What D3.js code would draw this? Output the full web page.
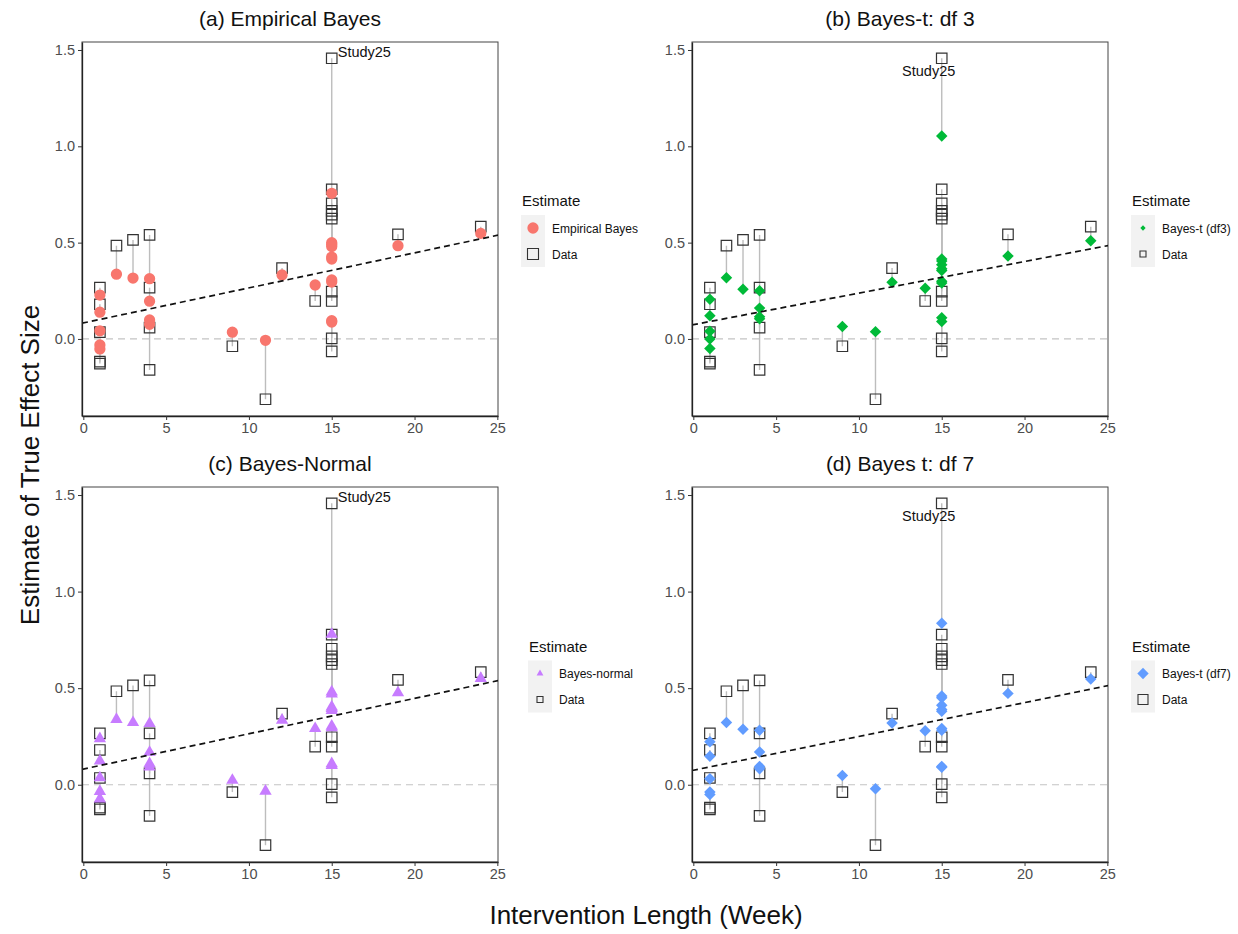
<!DOCTYPE html>
<html>
<head>
<meta charset="utf-8">
<script src="https://cdn.jsdelivr.net/npm/d3@7"></script>
<style>
  body { margin: 0; background: #fff; }
  text { font-family: "Liberation Sans", Arial, Helvetica, sans-serif; }
</style>
</head>
<body>
<svg id="chart" width="1238" height="934"></svg>
<script>
// Intervention length (weeks) for each study
const weeks = [1, 1, 1, 1, 1, 2, 3, 4, 4, 4, 4, 9, 11, 12, 14,
  15, 15, 15, 15, 15, 15, 15, 15, 15, 15, 19, 24];
// Observed effect sizes
const observed = [0.266, 0.180, 0.035, -0.118, -0.128, 0.484, 0.514, 0.540, 0.266, 0.059, -0.161,
  -0.038, -0.313, 0.368, 0.197,
  1.457, 0.777, 0.704, 0.665, 0.645, 0.625, 0.246, 0.197, 0.003, -0.065, 0.543, 0.583];
// Shrinkage estimates from each model
const ebEstimate = [0.228, 0.139, 0.042, -0.031, -0.052, 0.336, 0.316, 0.313, 0.196, 0.099, 0.076,
  0.035, -0.007, 0.332, 0.280,
  0.756, 0.500, 0.490, 0.480, 0.425, 0.415, 0.306, 0.295, 0.095, 0.088, 0.484, 0.548];
const tDf3Estimate = [0.206, 0.120, 0.040, 0.000, -0.050, 0.318, 0.258, 0.250, 0.160, 0.115, 0.105,
  0.064, 0.038, 0.294, 0.263,
  1.054, 0.415, 0.405, 0.385, 0.365, 0.355, 0.300, 0.290, 0.110, 0.090, 0.431, 0.510];
const normalEstimate = [0.239, 0.123, 0.036, -0.035, -0.073, 0.338, 0.322, 0.317, 0.168, 0.109, 0.092,
  0.023, -0.033, 0.334, 0.291,
  0.779, 0.481, 0.470, 0.403, 0.395, 0.385, 0.303, 0.295, 0.109, 0.100, 0.476, 0.551];
const tDf7Estimate = [0.222, 0.147, 0.031, -0.038, -0.050, 0.322, 0.287, 0.282, 0.170, 0.095, 0.083,
  0.048, -0.021, 0.320, 0.279,
  0.836, 0.459, 0.450, 0.412, 0.390, 0.380, 0.291, 0.282, 0.095, 0.090, 0.473, 0.547];

// Meta-regression fit per model (intercept, slope per week)
const fitIntercepts = [0.083, 0.074, 0.081, 0.075];
const fitSlopes = [0.0182, 0.0164, 0.0183, 0.0175];

const panelTitles = ["(a) Empirical Bayes", "(b) Bayes-t: df 3", "(c) Bayes-Normal", "(d) Bayes t: df 7"];
const seriesNames = ["Empirical Bayes", "Bayes-t (df3)", "Bayes-normal", "Bayes-t (df7)"];
const seriesColors = ["#F8766D", "#00BA38", "#C77CFF", "#619CFF"];
const xTicks = [0, 5, 10, 15, 20, 25];
const yTicks = [0, 0.5, 1.0, 1.5];
const yTickLabels = ["0.0", "0.5", "1.0", "1.5"];
const outlierLabel = "Study25";
const legendTitle = "Estimate";
const dataLabel = "Data";
const xTitle = "Intervention Length (Week)";
const yTitle = "Estimate of True Effect Size";

const estimates = [ebEstimate, tDf3Estimate, normalEstimate, tDf7Estimate];

const svg = d3.select("#chart");

// Panel layout
const panelW = 416;
const layout = [
  { left: 82,  top: 42,  bottom: 416, shape: "circle",   legendX: 521,  labelSide: "right",
    legendEst: 100, legendSq: 11 },
  { left: 692, top: 42,  bottom: 416, shape: "diamond",  legendX: 1131, labelSide: "below",
    legendEst: 14, legendSq: 6 },
  { left: 82,  top: 487, bottom: 862, shape: "triangle", legendX: 528,  labelSide: "right",
    legendEst: 20, legendSq: 6 },
  { left: 692, top: 487, bottom: 862, shape: "diamond",  legendX: 1131, labelSide: "below",
    legendEst: 64, legendSq: 10 }
];
const plotSize = { circle: 100, diamond: 66, triangle: 66 };

function markPath(shape, size) {
  if (shape === "circle") return d3.symbol(d3.symbolCircle, size)();
  if (shape === "triangle") return d3.symbol(d3.symbolTriangle, size)();
  return d3.symbol(d3.symbolSquare, size)();
}
function markRotate(shape) { return shape === "diamond" ? " rotate(45)" : ""; }

const studies = weeks.map((w, i) => ({ w, obs: observed[i], i }));
const outlierIdx = d3.maxIndex(observed);

layout.forEach((p, k) => {
  const est = estimates[k];
  const color = seriesColors[k];
  const right = p.left + panelW;
  const x = d3.scaleLinear().domain([-0.08, 25.04]).range([p.left, right]);
  const y = d3.scaleLinear().domain([-0.40, 1.5415]).range([p.bottom, p.top]);
  const g = svg.append("g");

  const clipId = "clip" + k;
  svg.append("clipPath").attr("id", clipId)
    .append("rect").attr("x", p.left).attr("y", p.top)
    .attr("width", panelW).attr("height", p.bottom - p.top);

  // panel frame
  g.append("rect").attr("x", p.left).attr("y", p.top)
    .attr("width", panelW).attr("height", p.bottom - p.top)
    .attr("fill", "#fff").attr("stroke", "#444").attr("stroke-width", 1);

  // reference line at zero
  g.append("line")
    .attr("x1", p.left).attr("x2", right)
    .attr("y1", y(0)).attr("y2", y(0))
    .attr("stroke", "#c4c4c4").attr("stroke-width", 1.2)
    .attr("stroke-dasharray", "7,5");

  // shrinkage segments
  g.append("g").selectAll("line").data(studies).join("line")
    .attr("x1", d => x(d.w)).attr("x2", d => x(d.w))
    .attr("y1", d => y(d.obs)).attr("y2", d => y(est[d.i]))
    .attr("stroke", "#bdbdbd").attr("stroke-width", 1.4);

  // observed data (open squares)
  g.append("g").selectAll("path").data(studies).join("path")
    .attr("d", d3.symbol(d3.symbolSquare, 110)())
    .attr("transform", d => `translate(${x(d.w)},${y(d.obs)})`)
    .attr("fill", "none").attr("stroke", "#333").attr("stroke-width", 1.2);

  // model estimates
  g.append("g").selectAll("path").data(studies).join("path")
    .attr("d", markPath(p.shape, plotSize[p.shape]))
    .attr("transform", d => `translate(${x(d.w)},${y(est[d.i])})${markRotate(p.shape)}`)
    .attr("fill", color);

  // meta-regression line
  const [x0, x1] = x.domain();
  g.append("line").attr("clip-path", `url(#${clipId})`)
    .attr("x1", x(x0)).attr("x2", x(x1))
    .attr("y1", y(fitIntercepts[k] + fitSlopes[k] * x0))
    .attr("y2", y(fitIntercepts[k] + fitSlopes[k] * x1))
    .attr("stroke", "#111").attr("stroke-width", 1.7)
    .attr("stroke-dasharray", "6,4");

  // outlier label
  const ox = x(weeks[outlierIdx]), oy = y(observed[outlierIdx]);
  const lab = g.append("text").text(outlierLabel)
    .attr("font-size", 14.5).attr("fill", "#111");
  if (p.labelSide === "right") {
    lab.attr("x", ox + 6).attr("y", oy - 1).attr("text-anchor", "start");
  } else {
    lab.attr("x", ox - 13).attr("y", oy + 18).attr("text-anchor", "middle");
  }

  // axes
  const xAxis = g.append("g").attr("transform", `translate(0,${p.bottom})`)
    .call(d3.axisBottom(x).tickValues(xTicks).tickSize(4).tickSizeOuter(0).tickPadding(3)
      .tickFormat(d3.format("d")));
  const yAxis = g.append("g").attr("transform", `translate(${p.left},0)`)
    .call(d3.axisLeft(y).tickValues(yTicks).tickSize(4).tickSizeOuter(0).tickPadding(3)
      .tickFormat((d, i) => yTickLabels[i]));
  [xAxis, yAxis].forEach(a => {
    a.select(".domain").attr("stroke", "#222").attr("stroke-width", 1.3);
    a.selectAll(".tick line").attr("stroke", "#333");
    a.selectAll(".tick text").attr("fill", "#4d4d4d").attr("font-size", 14.5)
      .attr("font-family", '"Liberation Sans", Arial, Helvetica, sans-serif');
  });

  // panel title
  g.append("text").text(panelTitles[k])
    .attr("x", (p.left + right) / 2).attr("y", p.top - 16)
    .attr("text-anchor", "middle").attr("font-size", 21).attr("fill", "#111");

  // legend
  const cy = (p.top + p.bottom) / 2;
  const lx = p.legendX;
  const lg = g.append("g");
  lg.append("text").text(legendTitle).attr("x", lx + 1).attr("y", cy - 23)
    .attr("font-size", 15).attr("fill", "#111");
  const keyH = 26, keyW = 24, keyTop = cy - 14;
  lg.append("rect").attr("x", lx).attr("y", keyTop).attr("width", keyW).attr("height", keyH * 2)
    .attr("fill", "#f2f2f2");
  const kx = lx + keyW / 2;
  lg.append("path").attr("d", markPath(p.shape, p.legendEst))
    .attr("transform", `translate(${kx},${keyTop + keyH / 2})${markRotate(p.shape)}`)
    .attr("fill", color);
  lg.append("path").attr("d", d3.symbol(d3.symbolSquare, p.legendSq * p.legendSq)())
    .attr("transform", `translate(${kx},${keyTop + keyH * 1.5})`)
    .attr("fill", "none").attr("stroke", "#333").attr("stroke-width", 1.1);
  lg.append("text").text(seriesNames[k]).attr("x", lx + 31).attr("y", keyTop + keyH / 2 + 4.5)
    .attr("font-size", 12).attr("fill", "#111");
  lg.append("text").text(dataLabel).attr("x", lx + 31).attr("y", keyTop + keyH * 1.5 + 4.5)
    .attr("font-size", 12).attr("fill", "#111");
});

// shared axis titles
svg.append("text").text(xTitle)
  .attr("x", 646).attr("y", 924).attr("text-anchor", "middle")
  .attr("font-size", 26).attr("fill", "#111");
svg.append("text").text(yTitle)
  .attr("transform", "translate(39,465) rotate(-90)")
  .attr("text-anchor", "middle").attr("font-size", 26).attr("fill", "#111");
</script>
</body>
</html>
